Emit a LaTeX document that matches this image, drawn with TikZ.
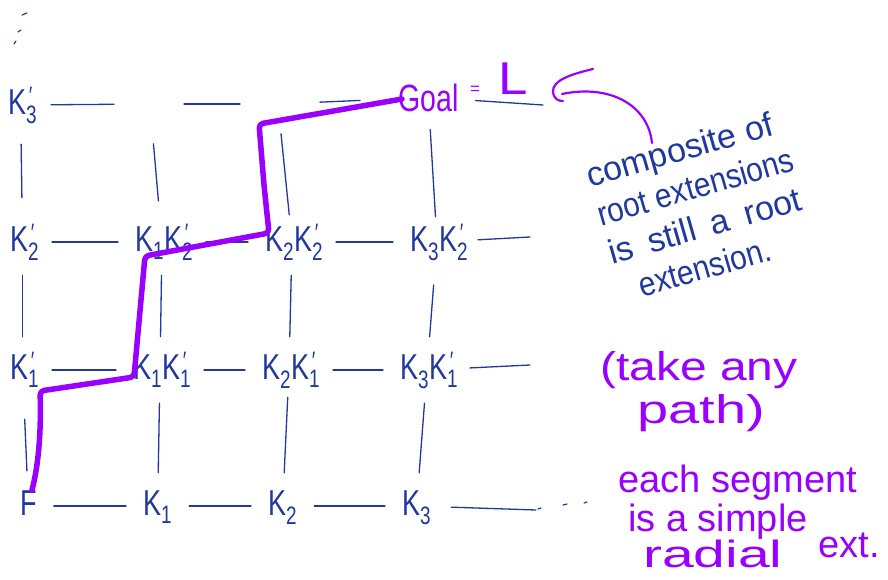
\documentclass[tikz,border=0pt]{standalone}
\usepackage{fontspec}
\setmainfont{Liberation Sans}
\usepackage{graphicx}
\usetikzlibrary{arrows.meta}
\definecolor{ink}{RGB}{32,56,160}
\definecolor{vio}{RGB}{153,0,255}
\newcommand{\sq}[1]{\scalebox{0.75}[1]{#1}}
\newcommand{\sbp}[1]{\textsubscript{#1}\kern-.3em\textsuperscript{′}}
\newcommand{\fsz}[1]{\fontsize{#1}{#1}\selectfont}
\begin{document}
\begin{tikzpicture}[x=1pt,y=-1pt,
  lab/.style={text=ink, font=\fsz{36}, inner sep=0pt, text height=28pt, text depth=10pt, anchor=west},
  ln/.style={draw=ink, line width=1.3pt, line cap=round},
  hz/.style={ln, shorten <=17pt, shorten >=17pt},
  vt/.style={ln, shorten <=14pt, shorten >=14pt},
  note/.style={anchor=base west, inner sep=0pt, font=\fsz{#1}},
  purpath/.style={draw=vio, line width=5.5pt, line cap=round, line join=round, rounded corners=4pt},
]
\fill[white] (0,0) rectangle (888,579);
\useasboundingbox (0,0) rectangle (888,579);

% ---- grid nodes ----
\node[lab] (K3p)  at (8,105)   {\sq{K\sbp{3}}};
\coordinate (t1) at (150,104);
\coordinate (t2) at (278,104);
\node[note=38, text=vio] (goal) at (398,111) {\scalebox{0.75}[1]{Goal}};
\node[note=17, text=vio] (eqL) at (470,94) {=\hspace{18pt}{\fsz{46}\scalebox{1.15}[1]{L}}};
\coordinate (e3) at (543,105);

\node[lab] (K2p)  at (10,242)  {\sq{K\sbp{2}}};
\node[lab] (K1K2) at (135,242) {\sq{K\textsubscript{1}K\sbp{2}}};
\node[lab] (K2K2) at (265,242) {\sq{K\textsubscript{2}K\sbp{2}}};
\node[lab] (K3K2) at (410,242) {\sq{K\textsubscript{3}K\sbp{2}}};
\coordinate (e2) at (530,237);

\node[lab] (K1p)  at (10,370)  {\sq{K\sbp{1}}};
\node[lab] (K1K1) at (133,370) {\sq{K\textsubscript{1}K\sbp{1}}};
\node[lab] (K2K1) at (262,370) {\sq{K\textsubscript{2}K\sbp{1}}};
\node[lab] (K3K1) at (400,370) {\sq{K\textsubscript{3}K\sbp{1}}};
\coordinate (e1) at (530,365);

\node[lab] (F)  at (20,506)  {\sq{F}};
\node[lab] (K1) at (143,506) {\sq{K\textsubscript{1}}};
\node[lab] (K2) at (268,506) {\sq{K\textsubscript{2}}};
\node[lab] (K3) at (402,506) {\sq{K\textsubscript{3}}};
\coordinate (e0) at (536,510);

% ---- horizontal connectors ----
\draw[ln, shorten <=18pt, shorten >=36pt] (K3p) -- (t1);
\draw[ln, shorten <=34pt, shorten >=38pt] (t1) -- (t2);
\draw[ln, shorten <=42pt, shorten >=38pt] (t2) -- (goal);
\draw[ln, shorten <=17pt] (goal) -- (e3);

\draw[hz] (K2p) -- (K1K2);
\draw[hz] (K1K2) -- (K2K2);
\draw[hz] (K2K2) -- (K3K2);
\draw[ln, shorten <=14pt] (K3K2) -- (e2);

\draw[hz] (K1p) -- (K1K1);
\draw[hz] (K1K1) -- (K2K1);
\draw[hz] (K2K1) -- (K3K1);
\draw[ln, shorten <=16pt] (K3K1) -- (e1);

\draw[hz] (F) -- (K1);
\draw[hz] (K1) -- (K2);
\draw[hz] (K2) -- (K3);
\draw[ln, shorten <=20pt] (K3) -- (e0);

% ---- vertical connectors ----
\draw[ln, shorten <=20pt, shorten >=25pt] (K3p) -- (K2p);
\draw[vt] (K2p) -- (K1p);
\draw[ln, shorten <=30pt, shorten >=16pt] (K1p) -- (F);
\draw[ln, shorten <=40pt, shorten >=22pt] (t1) -- (K1K2);
\draw[vt] (K1K2) -- (K1K1);
\draw[vt] (K1K1) -- (K1);
\draw[ln, shorten <=30pt, shorten >=8pt] (t2) -- (K2K2);
\draw[vt] (K2K2) -- (K2K1);
\draw[ln, shorten <=8pt, shorten >=14pt] (K2K1) -- (K2);
\draw[ln, shorten <=18pt, shorten >=6pt] (goal) -- (K3K2);
\draw[ln, shorten <=24pt, shorten >=14pt] (K3K2) -- (K3K1);
\draw[vt] (K3K1) -- (K3);

% ---- ellipsis marks ----
\draw[ln, line width=1.2pt] (22,15) -- (27,13);
\draw[ln, line width=1.2pt] (18,32) -- (21,30);
\draw[ln, line width=1.2pt] (14,44) -- (16,41);
\draw[ln, line width=1.2pt] (538,509) -- (541,508);
\draw[ln, line width=1.2pt] (563,505) -- (567,504);
\draw[ln, line width=1.2pt] (584,503) -- (587,502);

% ---- chosen path ----
\coordinate (p0) at (32,490);
\coordinate (p1) at (40,391);
\coordinate (p2) at (134,377);
\coordinate (p3) at (145,256);
\coordinate (p4) at (269,233);
\coordinate (p5) at (259,124);
\coordinate (p6) at (402,99);
\draw[purpath] (p0) .. controls (40,460) and (41,420) .. (p1) -- (p2) -- (p3) -- (p4) -- (264,185) -- (p5) -- (p6);

% ---- annotations ----
\node[anchor=base west, inner sep=0pt, text=ink, align=left, rotate=16,
      font=\fontsize{34}{40}\selectfont] (c1) at (623,303)
  {composite of\\
   \scalebox{0.88}[1]{root extensions}\\
   is\hspace{16pt}still\hspace{16pt}a\hspace{16pt}root\\
   \hspace{20pt}\scalebox{0.88}[1]{extension.}};

\coordinate (astart) at (652,143);
\coordinate (aend) at (562,94);
\draw[draw=vio, line width=2.2pt, line cap=round] (astart) .. controls (648,105) and (610,84) .. (aend);
\draw[draw=vio, line width=2.2pt, line cap=round, line join=round]
  (593,69) .. controls (572,74) and (552,80) .. (553,92) .. controls (554,99) and (558,101) .. (563,101);

\node[anchor=base west, inner sep=0pt, text=vio, align=left,
      font=\fontsize{40}{43}\selectfont] (n1) at (600,423)
  {\scalebox{1.2}[1]{(take any}\\
   \hspace{37pt}\scalebox{1.4}[1]{path)}};
\node[anchor=base west, inner sep=0pt, text=vio, align=left,
      font=\fontsize{38}{39}\selectfont] (n2) at (618,567)
  {each segment\\
   \hspace{10pt}is a simple\\[-8pt]
   \hspace{25pt}\scalebox{1.5}[1]{radial}\hspace{36pt}\raisebox{10pt}{ext.}};
\end{tikzpicture}
\end{document}
